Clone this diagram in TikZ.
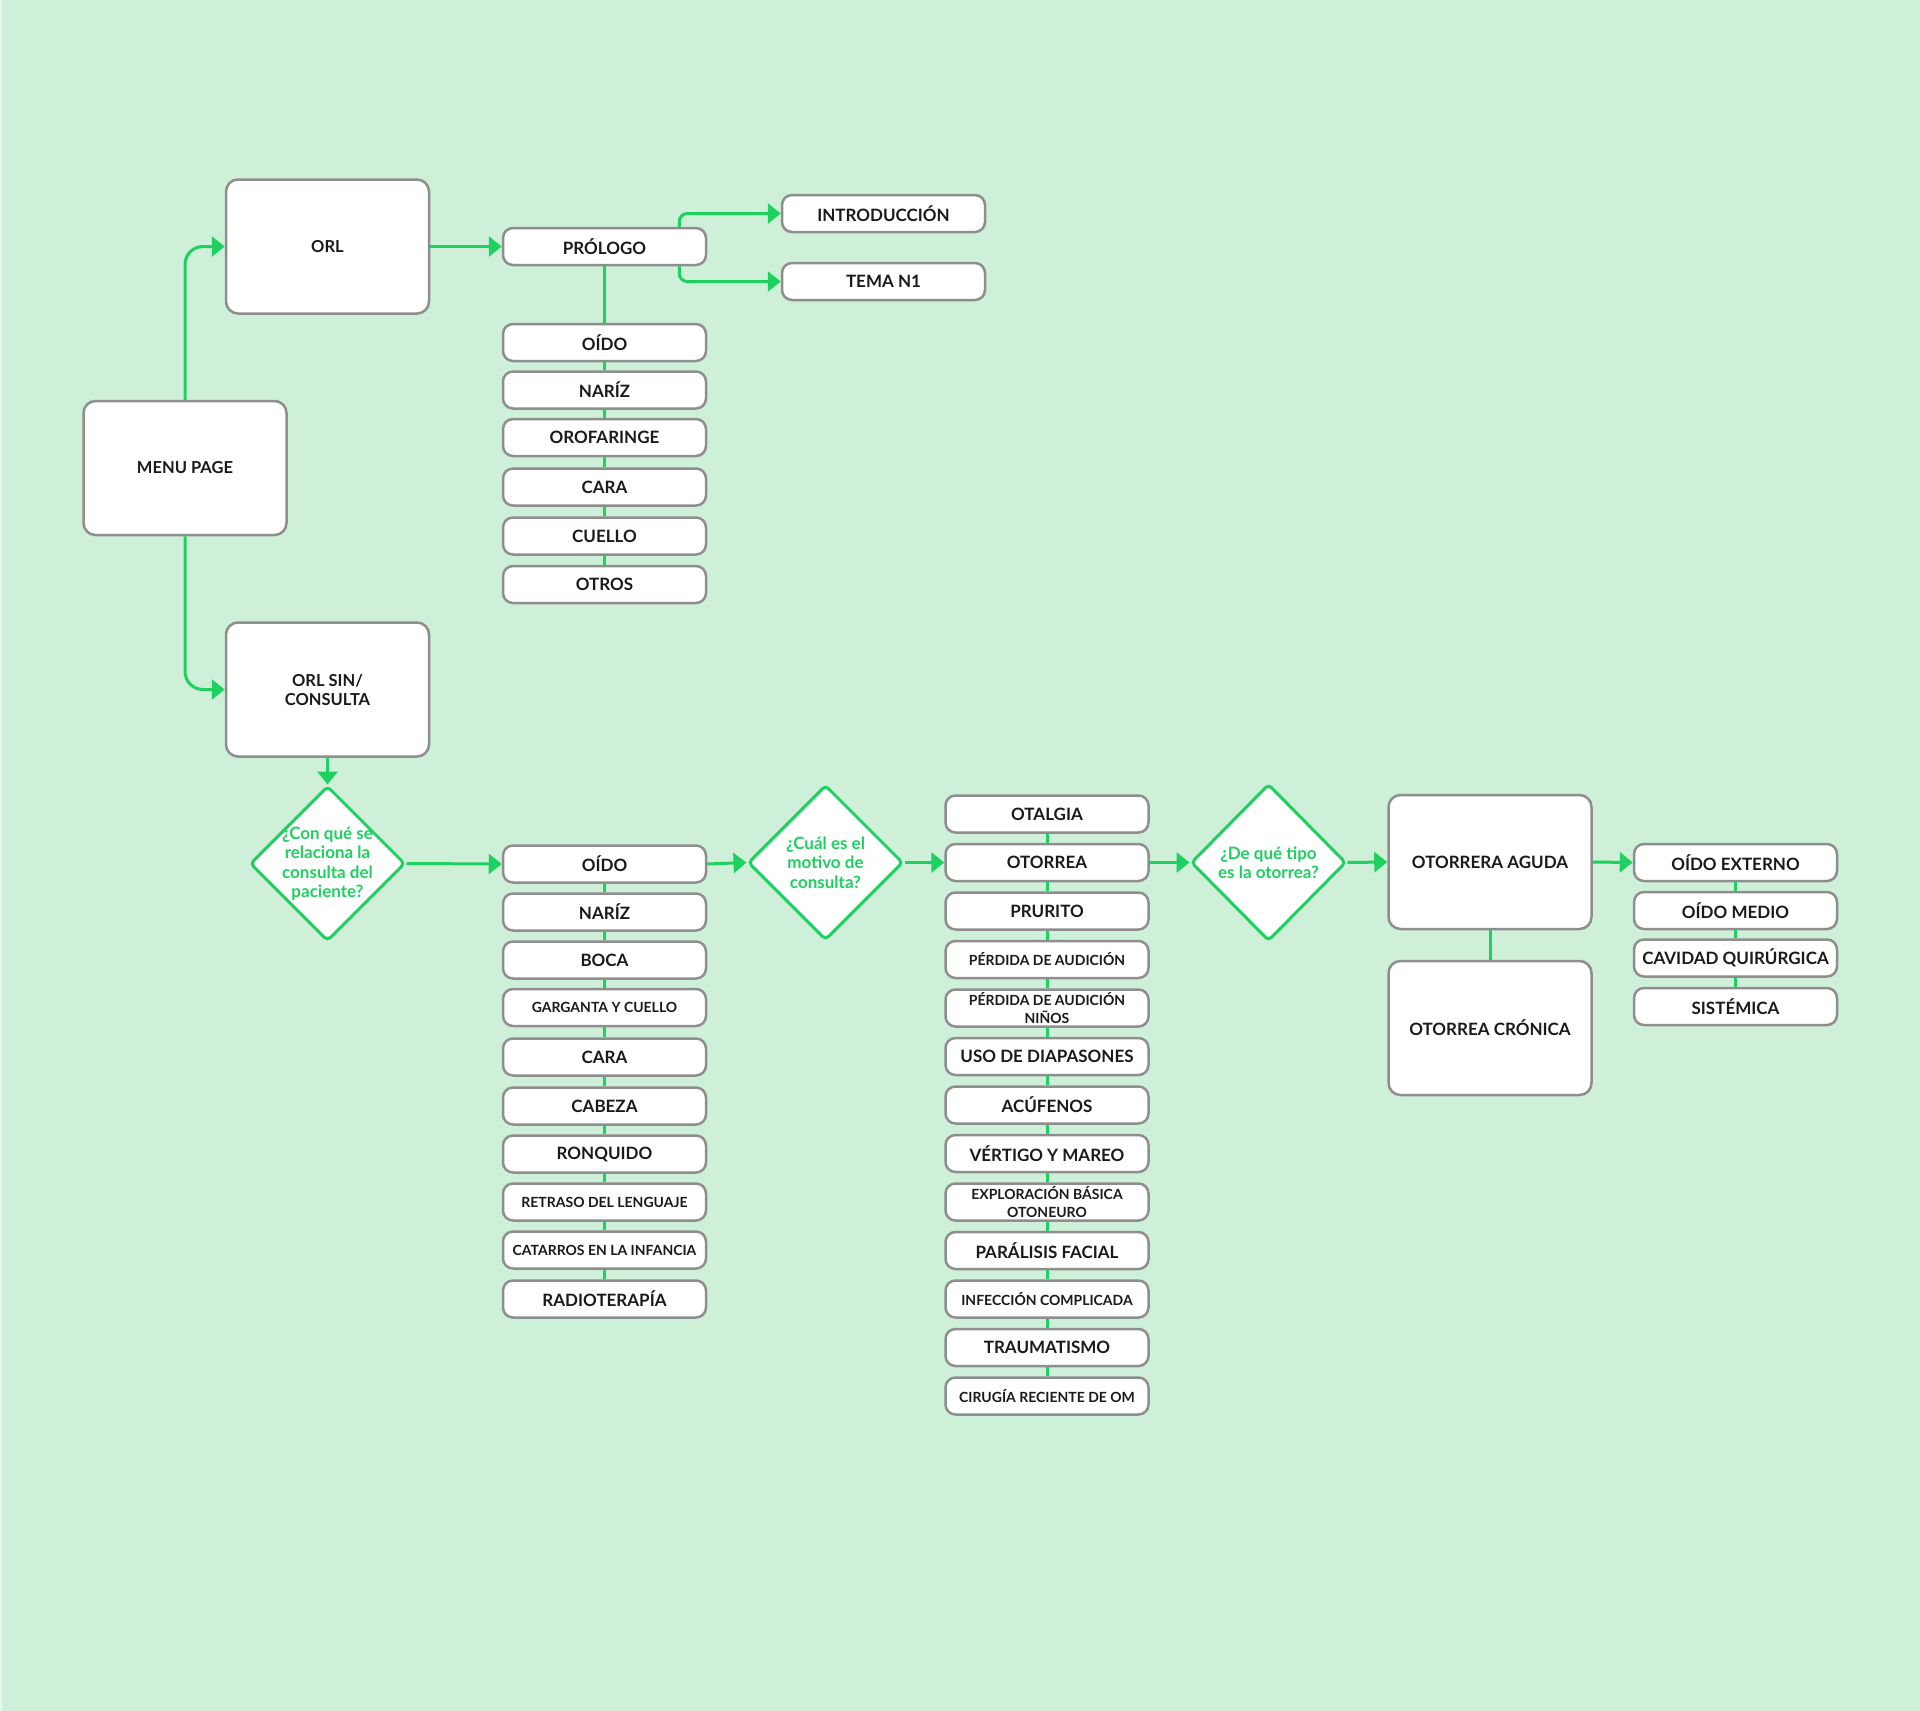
\documentclass[tikz,border=0pt]{standalone}
\usepackage{fontspec}
\setmainfont{Lato}
\usetikzlibrary{arrows.meta,shapes.geometric,calc}
\definecolor{bgc}{HTML}{CFF0D8}
\definecolor{grn}{RGB}{30,208,95}
\definecolor{brd}{HTML}{8E8E8E}
\definecolor{txt}{HTML}{1A1A1A}
\tikzset{
  box/.style={draw=brd, line width=2.5pt, fill=white, rounded corners=10pt,
    minimum width=203pt, minimum height=37pt, inner sep=0pt, text=txt,
    font=\bfseries\fontsize{17}{20}\selectfont, align=center},
  sbox/.style={box, font=\bfseries\fontsize{14}{18.5}\selectfont},
  bigbox/.style={box, minimum height=134pt, rounded corners=12pt,
    font=\bfseries\fontsize{16.5}{19}\selectfont},
  dia/.style={diamond, draw=grn, line width=3pt, fill=white,
    minimum width=155pt, minimum height=155pt, inner sep=0pt, rounded corners=4pt},
  dtext/.style={text=grn, font=\bfseries\fontsize{17}{19.5}\selectfont,
    align=center, inner sep=0pt},
  conn/.style={draw=grn, line width=3pt},
  arr/.style={conn, -{Triangle[length=13pt,width=20pt]}},
}
\begin{document}
\begin{tikzpicture}[x=1pt,y=-1pt]
\fill[bgc] (0,0) rectangle (1920,1711);
\fill[white!55!bgc] (0,0) rectangle (2,1711);
\useasboundingbox (0,0) rectangle (1920,1711);

% big boxes
\node[bigbox] (menu) at (185,468) {MENU PAGE};
\node[bigbox] (orl) at (327.5,246.5) {ORL};
\node[bigbox] (orlsin) at (327.5,689.5) {ORL SIN/\\CONSULTA};

% prologue branch
\node[box] (pro) at (604.5,246.5) {PRÓLOGO};
\node[box] (intro) at (883.5,213.5) {INTRODUCCIÓN};
\node[box] (tema) at (883.5,281.5) {TEMA N1};

% list 1
\node[box] (a1) at (604.5,342.5) {OÍDO};
\node[box] (a2) at (604.5,390) {NARÍZ};
\node[box] (a3) at (604.5,437.5) {OROFARINGE};
\node[box] (a4) at (604.5,487) {CARA};
\node[box] (a5) at (604.5,536) {CUELLO};
\node[box] (a6) at (604.5,584.5) {OTROS};

% diamonds
\node[dia] (d1) at (327.5,863.5) {};
\node[dtext] at (d1) {¿Con qué se\\relaciona la\\consulta del\\paciente?};
\node[dia] (d2) at (825.5,862.5) {};
\node[dtext] at (d2) {¿Cuál es el\\motivo de\\consulta?};
\node[dia, minimum height=157pt] (d3) at (1268.5,862.5) {};
\node[dtext] at (d3) {¿De qué tipo\\es la otorrea?};

% list 2
\node[box]  (b1) at (604.5,864) {OÍDO};
\node[box]  (b2) at (604.5,912) {NARÍZ};
\node[box]  (b3) at (604.5,960) {BOCA};
\node[sbox] (b4) at (604.5,1007.5) {GARGANTA Y CUELLO};
\node[box]  (b5) at (604.5,1057) {CARA};
\node[box]  (b6) at (604.5,1106) {CABEZA};
\node[box]  (b7) at (604.5,1154) {RONQUIDO};
\node[sbox] (b8) at (604.5,1202) {RETRASO DEL LENGUAJE};
\node[sbox] (b9) at (604.5,1250) {CATARROS EN LA INFANCIA};
\node[box]  (b10) at (604.5,1299) {RADIOTERAPÍA};

% list 3
\node[box]  (c1) at (1047,814) {OTALGIA};
\node[box]  (c2) at (1047,862.5) {OTORREA};
\node[box]  (c3) at (1047,911) {PRURITO};
\node[sbox] (c4) at (1047,959.5) {PÉRDIDA DE AUDICIÓN};
\node[sbox] (c5) at (1047,1008) {PÉRDIDA DE AUDICIÓN\\NIÑOS};
\node[box]  (c6) at (1047,1056.5) {USO DE DIAPASONES};
\node[box]  (c7) at (1047,1105) {ACÚFENOS};
\node[box]  (c8) at (1047,1153.5) {VÉRTIGO Y MAREO};
\node[sbox] (c9) at (1047,1202) {EXPLORACIÓN BÁSICA\\OTONEURO};
\node[box]  (c10) at (1047,1250.5) {PARÁLISIS FACIAL};
\node[sbox] (c11) at (1047,1299) {INFECCIÓN COMPLICADA};
\node[box]  (c12) at (1047,1347.5) {TRAUMATISMO};
\node[sbox] (c13) at (1047,1396) {CIRUGÍA RECIENTE DE OM};

% otorrea type
\node[bigbox, font=\bfseries\fontsize{17}{20}\selectfont] (aguda) at (1490,862) {OTORRERA AGUDA};
\node[bigbox, font=\bfseries\fontsize{17}{20}\selectfont] (cronica) at (1490,1028) {OTORREA CRÓNICA};

% list 4
\node[box] (e1) at (1735.5,862.5) {OÍDO EXTERNO};
\node[box] (e2) at (1735.5,910.5) {OÍDO MEDIO};
\node[box] (e3) at (1735.5,958) {CAVIDAD QUIRÚRGICA};
\node[box] (e4) at (1735.5,1006.5) {SISTÉMICA};

% connectors
\draw[arr, rounded corners=18pt] (menu.north) |- (orl.west);
\draw[arr, rounded corners=18pt] (menu.south) |- (orlsin.west);
\draw[arr] (orl.east) -- (pro.west);
\coordinate (pt) at ($(pro.north east)+(-28,0)$);
\coordinate (pb) at ($(pro.south east)+(-28,0)$);
\draw[arr, rounded corners=8pt] (pt) |- (intro.west);
\draw[arr, rounded corners=8pt] (pb) |- (tema.west);
\draw[conn] (pro.south) -- (a1.north);
\foreach \i/\j in {1/2,2/3,3/4,4/5,5/6} \draw[conn] (a\i.south) -- (a\j.north);

\draw[arr] (orlsin.south) -- (d1.north);
\draw[arr] (d1.east) -- (b1.west);
\foreach \i/\j in {1/2,2/3,3/4,4/5,5/6,6/7,7/8,8/9,9/10} \draw[conn] (b\i.south) -- (b\j.north);
\draw[arr] (b1.east) -- (d2.west);
\draw[arr] (d2.east) -- (c2.west);
\foreach \i/\j in {1/2,2/3,3/4,4/5,5/6,6/7,7/8,8/9,9/10,10/11,11/12,12/13} \draw[conn] (c\i.south) -- (c\j.north);
\draw[arr] (c2.east) -- (d3.west);
\draw[arr] (d3.east) -- (aguda.west);
\draw[conn] (aguda.south) -- (cronica.north);
\draw[arr] (aguda.east) -- (e1.west);
\foreach \i/\j in {1/2,2/3,3/4} \draw[conn] (e\i.south) -- (e\j.north);
\end{tikzpicture}
\end{document}
